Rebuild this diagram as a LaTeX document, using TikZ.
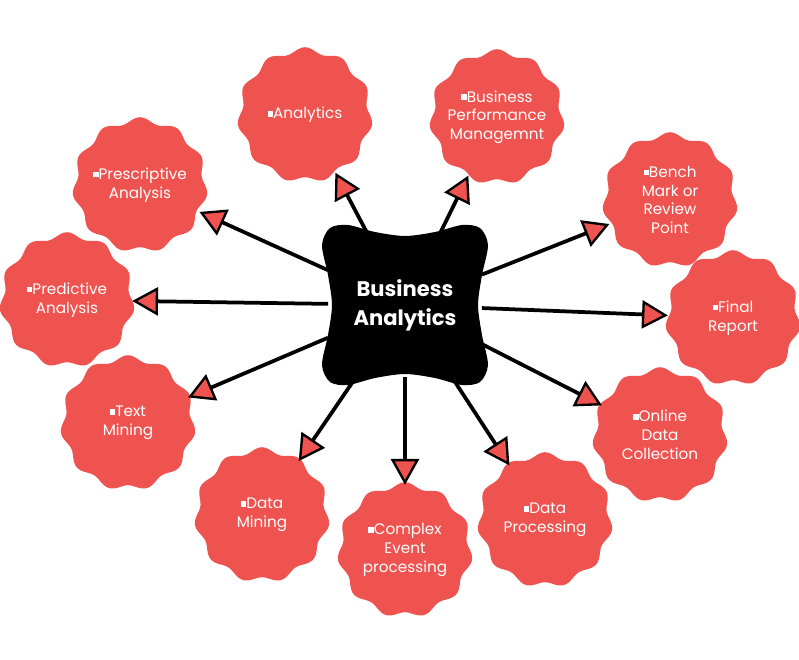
\documentclass[tikz,border=0pt]{standalone}
\usepackage{fontspec}
\setmainfont{Poppins}
\usetikzlibrary{arrows.meta}
\definecolor{blobred}{HTML}{EF5350}
\tikzstyle{blob} = [circle, minimum size=3.9cm, inner sep=0pt, align=center, text=white, font=\fontsize{13}{16}\selectfont]
\tikzstyle{arrow} = [line width=3.2pt, -{Triangle[length=22pt,width=24pt,fill=blobred,line width=2pt]}]
\newcommand{\sq}{\raisebox{0.25ex}{\rule{0.36em}{0.36em}}}
% wavy disc with a name and a text
\newcommand{\blob}[3]{%
  \fill[blobred, shift={(#2)}] plot[domain=0:360, samples=121, smooth cycle] (\x:{65+2.8*sin(11*\x)});
  \node (#1) [blob] at (#2) {#3};}

\begin{document}
\begin{tikzpicture}[x=0.03cm, y=-0.03cm]
\useasboundingbox (0,0) rectangle (799,659);

% Blobs
\blob{an}{305,115}{\sq Analytics}
\blob{bpm}{497,117}{\sq Business\\Performance\\Managemnt}
\blob{pres}{140,185}{\sq Prescriptive\\Analysis}
\blob{bench}{670,200}{\sq Bench\\Mark or\\Review\\Point}
\blob{pred}{67,300}{\sq Predictive\\Analysis}
\blob{final}{733,318}{\sq Final\\Report}
\blob{text}{128,423}{\sq Text\\Mining}
\blob{online}{660,435}{\sq Online\\Data\\Collection}
\blob{dmin}{262,515}{\sq Data\\Mining}
\blob{cep}{405,550}{\sq Complex\\Event\\processing}
\blob{dproc}{545,520}{\sq Data\\Processing}

% Centre
\fill[black] plot[smooth cycle] coordinates {(322,245) (330,228) (348,225) (375,232) (405,236) (435,232) (462,225) (480,228) (488,245) (482,275) (478,305) (482,335) (488,365) (480,382) (462,385) (435,378) (405,374) (375,378) (348,385) (330,382) (322,365) (328,335) (332,305) (328,275)};
\node (ba) [rectangle, minimum width=4.6cm, minimum height=4.3cm, align=center, text=white, font=\fontsize{18}{25}\selectfont\bfseries] at (405,305) {Business\\Analytics};

% Arrows
\foreach \n in {an, bpm, pres, bench, pred, final, text, online, dmin, cep, dproc}
  \draw [arrow] (ba) -- (\n);

\end{tikzpicture}
\end{document}
